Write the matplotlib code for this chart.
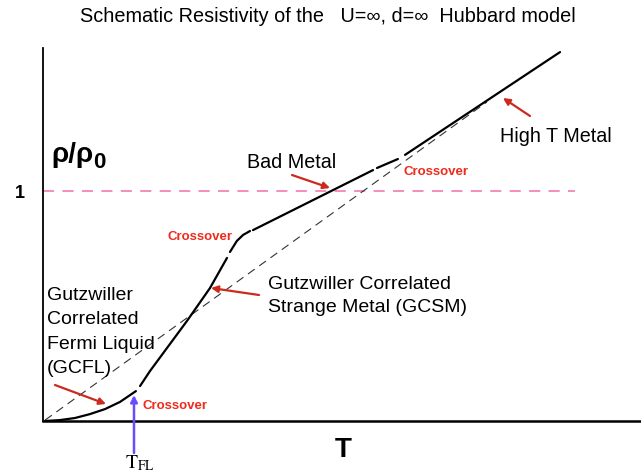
import matplotlib
matplotlib.use("Agg")
import matplotlib.pyplot as plt
import numpy as np

plt.rcParams['font.family'] = ['Liberation Sans', 'DejaVu Sans']
plt.rcParams['mathtext.fontset'] = 'stix'
plt.rcParams['lines.scale_dashes'] = False

W, H = 641, 474

# schematic curve pieces (T, rho/rho0)
fl_T = [0.009, 0.074, 0.139, 0.204, 0.270, 0.335, 0.404]
fl_rho = [0.0, 0.004, 0.013, 0.030, 0.052, 0.083, 0.130]

gcsm_T = [0.422, 0.465, 0.626, 0.726, 0.800]
gcsm_rho = [0.152, 0.217, 0.435, 0.578, 0.709]

bend_T = [0.813, 0.843, 0.870, 0.900]
bend_rho = [0.735, 0.783, 0.809, 0.826]

bad_T = [0.913, 1.435]
bad_rho = [0.830, 1.091]

cross_T = [1.452, 1.543]
cross_rho = [1.100, 1.139]

high_T = [1.574, 2.248]
high_rho = [1.157, 1.604]

# dashed linear guide
lin_T = [0.009, 1.930]
lin_rho = [0.004, 1.387]

ref_level = 1.0
ref_T_end = 2.313


def px(x, y):
    # pixel position in the picture -> figure fraction
    return (x / W, 1 - y / H)


fig = plt.figure(figsize=(W / 100, H / 100), dpi=100)
ax = fig.add_axes([43 / W, (H - 421) / H, (W - 43) / W, (421 - 40) / H])
ax.set_xlim(0, 598 / 230)
ax.set_ylim(0, 381 / 230)

for s in ['top', 'right']:
    ax.spines[s].set_visible(False)
ax.spines['left'].set_bounds(0, (421 - 48) / 230)
ax.spines['left'].set_linewidth(1.3)
ax.spines['bottom'].set_linewidth(1.8)
ax.set_xticks([])
ax.set_yticks([ref_level])
ax.set_yticklabels(['1'], fontsize=13, fontweight='bold')
ax.tick_params(axis='y', length=0, pad=13)

# dashed reference lines
ax.plot([0, ref_T_end], [ref_level, ref_level], color='#f27ab0', lw=1.2,
        ls=(0, (8, 6)))
ax.plot(lin_T, lin_rho, color='#333333', lw=0.8, ls=(0, (6, 4)))

# solid resistivity pieces
for tt, rr in [(fl_T, fl_rho), (gcsm_T, gcsm_rho), (bend_T, bend_rho),
               (bad_T, bad_rho), (cross_T, cross_rho), (high_T, high_rho)]:
    ax.plot(tt, rr, color='black', lw=1.6, solid_capstyle='round')

# title and labels
fig.text(*px(328, 17), 'Schematic Resistivity of the   U=\u221e, d=\u221e  Hubbard model',
         ha='center', va='center', fontsize=14.3)
fig.text(*px(51, 155), '\u03c1/\u03c1', ha='left', va='center',
         fontsize=20, fontweight='bold')
fig.text(*px(93, 162), '0', ha='left', va='center',
         fontsize=16, fontweight='bold')
fig.text(*px(343, 450), 'T', ha='center', va='center', fontsize=20,
         fontweight='bold')
fig.text(*px(140, 463), r'$\mathrm{T}_{\mathrm{FL}}$', ha='center',
         va='center', fontsize=14)

fig.text(*px(292, 163), 'Bad Metal', ha='center', va='center', fontsize=14.2)
fig.text(*px(500, 137), 'High T Metal', ha='left', va='center', fontsize=14.2)
fig.text(*px(268, 296), 'Gutzwiller Correlated\nStrange Metal (GCSM)',
         ha='left', va='center', fontsize=14, linespacing=1.4)
fig.text(*px(47, 332), 'Gutzwiller\nCorrelated\nFermi Liquid\n(GCFL)',
         ha='left', va='center', fontsize=14, linespacing=1.55)

red_txt = '#ee2b1c'
for cx, cy in [(200, 237), (175, 406), (436, 172)]:
    fig.text(*px(cx, cy), 'Crossover', ha='center', va='center', fontsize=9.5,
             fontweight='bold', color=red_txt)

# arrows
red_arr = '#cc2a1e'
for (x0, y0), (x1, y1) in [((55, 385), (106, 404)), ((259, 295), (211, 288)),
                           ((292, 175), (330, 188)), ((530, 116), (503, 98))]:
    ax.annotate('', xy=px(x1, y1), xycoords='figure fraction',
                xytext=px(x0, y0), textcoords='figure fraction',
                arrowprops=dict(arrowstyle='-|>', color=red_arr, lw=1.6,
                                mutation_scale=10, shrinkA=0, shrinkB=0))
ax.annotate('', xy=px(134, 395), xycoords='figure fraction',
            xytext=px(134, 453), textcoords='figure fraction',
            arrowprops=dict(arrowstyle='-|>', color='#6a4cff', lw=1.8,
                            mutation_scale=10, shrinkA=0, shrinkB=0))

fig.savefig('out.png', dpi=100)
